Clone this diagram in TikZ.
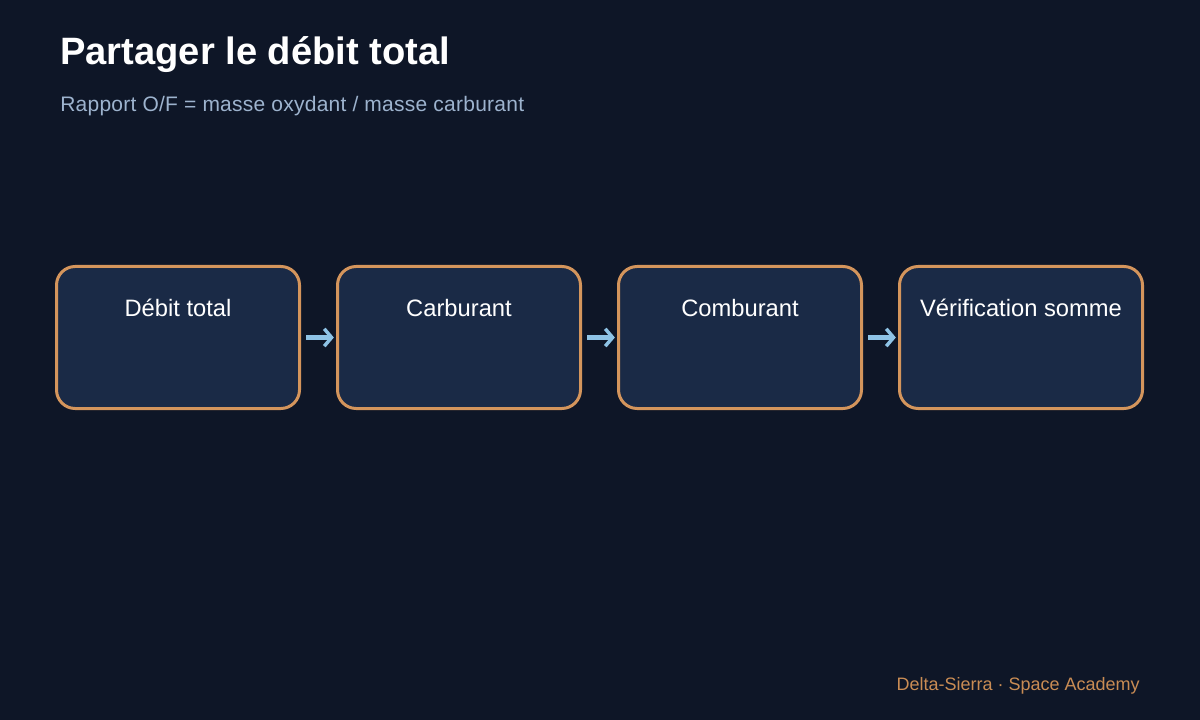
\documentclass[tikz,border=0pt]{standalone}
\usepackage{fontspec}
\setmainfont{Liberation Sans}
\newfontfamily\subfont{Liberation Sans}[LetterSpace=1.2]
\usetikzlibrary{arrows.meta}
\definecolor{bgcol}{HTML}{0E1627}
\definecolor{boxfill}{HTML}{1A2A46}
\definecolor{boxline}{HTML}{D4955C}
\definecolor{arrcol}{HTML}{8EC3E6}
\definecolor{subcol}{HTML}{9DB3CE}
\definecolor{footcol}{HTML}{C98C54}
\tikzset{
  stepbox/.style={draw=boxline, fill=boxfill, line width=2.25pt, rounded corners=14pt,
    minimum width=182.25pt, minimum height=106.5pt, inner sep=0pt},
  boxtext/.style={text=white, font=\fontsize{17.8pt}{20pt}\selectfont, anchor=base, inner sep=0pt},
  flowarrow/.style={draw=arrcol, line width=3.6pt,
    -{Straight Barb[length=5.5pt,width=13pt,line width=2.6pt]},
    shorten <=3.75pt, shorten >=1.6pt},
}
\begin{document}
\begin{tikzpicture}[x=0.75pt,y=-0.75pt]
\fill[bgcol] (0,0) rectangle (1200,720);
\useasboundingbox (0,0) rectangle (1200,720);
\node[anchor=base west, inner sep=0pt, text=white, font=\fontsize{28.6pt}{32pt}\selectfont\bfseries] (title) at (60,65) {Partager le débit total};
\node[anchor=base west, inner sep=0pt, text=subcol, font=\subfont\fontsize{15.75pt}{18pt}\selectfont] (sub) at (60,112) {Rapport O/F = masse oxydant / masse carburant};
\node[stepbox] (b1) at (178,337.5) {};
\node[stepbox] (b2) at (459,337.5) {};
\node[stepbox] (b3) at (740,337.5) {};
\node[stepbox] (b4) at (1021,337.5) {};
\node[boxtext] (t1) at (178,317) {Débit total};
\node[boxtext] (t2) at (459,317) {Carburant};
\node[boxtext] (t3) at (740,317) {Comburant};
\node[boxtext] (t4) at (1021,317) {Vérification somme};
\draw[flowarrow] (b1.east) -- (b2.west);
\draw[flowarrow] (b2.east) -- (b3.west);
\draw[flowarrow] (b3.east) -- (b4.west);
\node[anchor=base east, inner sep=0pt, text=footcol, font=\fontsize{13.5pt}{16pt}\selectfont] (foot) at (1140,690) {Delta-Sierra · Space Academy};
\end{tikzpicture}
\end{document}
